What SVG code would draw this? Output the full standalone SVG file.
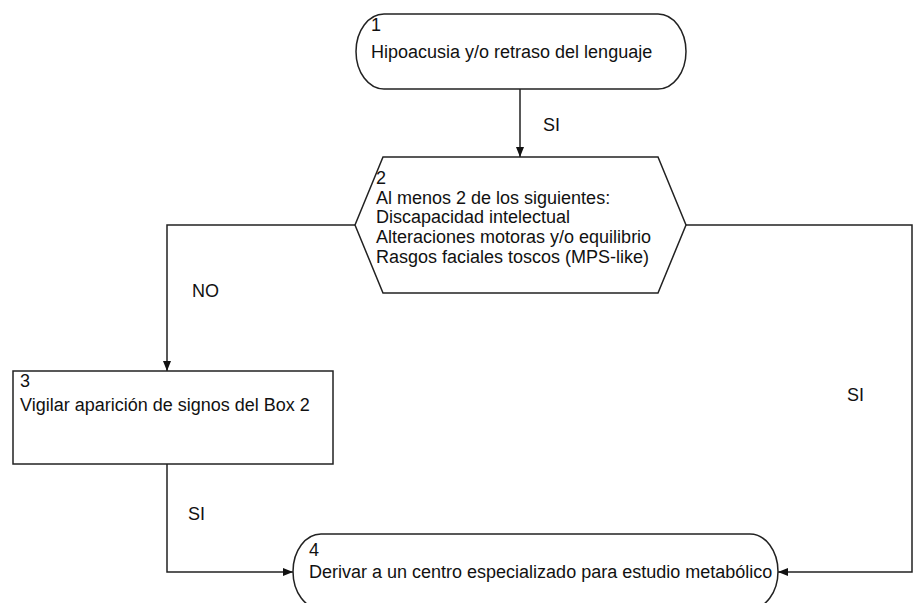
<svg xmlns="http://www.w3.org/2000/svg" width="918" height="603" viewBox="0 0 918 603">
<defs>
<style>
.shape{fill:#fff;stroke:#222;stroke-width:1.5}
.edge{fill:none;stroke:#222;stroke-width:1.5}
text{font-family:"Liberation Sans",Arial,sans-serif;font-size:18px;fill:#111}
</style>
<marker id="ah" viewBox="0 0 10 10" refX="10" refY="5" markerWidth="10" markerHeight="10" markerUnits="userSpaceOnUse" orient="auto">
<path d="M0,1 L10,5 L0,9 z" fill="#111"/>
</marker>
</defs>
<rect width="918" height="603" fill="#fff"/>
<g id="connectors">
<path class="edge" d="M520,89 L520,157" marker-end="url(#ah)"/>
<path class="edge" d="M355,225 L167,225 L167,371" marker-end="url(#ah)"/>
<path class="edge" d="M686,225 L912,225 L912,572 L778,572" marker-end="url(#ah)"/>
<path class="edge" d="M167,464 L167,572 L293,572" marker-end="url(#ah)"/>
<text x="543" y="131">SI</text>
<text x="192" y="297">NO</text>
<text x="847" y="401">SI</text>
<text x="188" y="520">SI</text>
</g>
<g id="node1">
<rect class="shape" x="356" y="14" width="330" height="75" rx="28" ry="37.5"/>
<text x="371" y="31">1</text>
<text x="371" y="58">Hipoacusia y/o retraso del lenguaje</text>
</g>
<g id="node2">
<polygon class="shape" points="383,157 658,157 686,225 658,293 383,293 355,225"/>
<text x="376" y="184">2</text>
<text x="376" y="204">Al menos 2 de los siguientes:</text>
<text x="376" y="223">Discapacidad intelectual</text>
<text x="376" y="243">Alteraciones motoras y/o equilibrio</text>
<text x="376" y="263">Rasgos faciales toscos (MPS-like)</text>
</g>
<g id="node3">
<rect class="shape" x="13" y="371" width="320" height="93"/>
<text x="20" y="387">3</text>
<text x="20" y="411">Vigilar aparición de signos del Box 2</text>
</g>
<g id="node4">
<rect class="shape" x="293" y="534" width="485" height="75" rx="28" ry="37.5"/>
<text x="309" y="556">4</text>
<text x="309" y="578">Derivar a un centro especializado para estudio metabólico</text>
</g>
</svg>
